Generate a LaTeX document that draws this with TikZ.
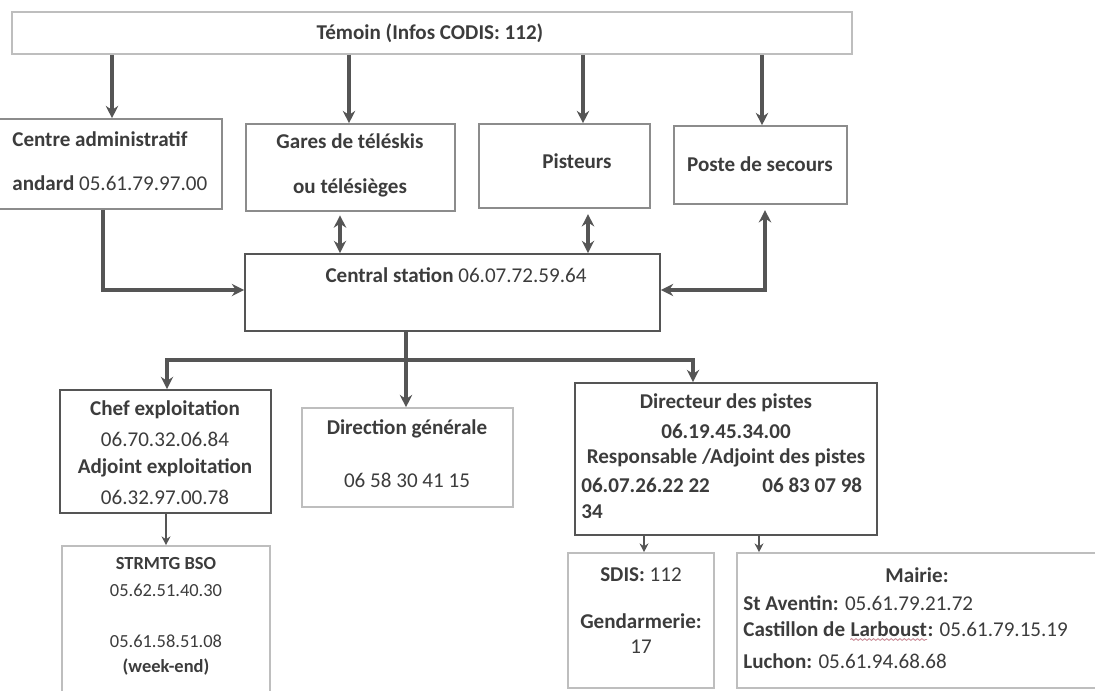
\documentclass[tikz,border=0pt]{standalone}
\usepackage{fontspec}
\setmainfont{Carlito}
\usetikzlibrary{arrows.meta,fit,decorations.pathmorphing}

\definecolor{ink}{HTML}{3C3C3C}
\definecolor{wire}{HTML}{555555}
\definecolor{edge}{HTML}{8C8C8C}
\definecolor{pale}{HTML}{BEBEBE}
\definecolor{squiggle}{HTML}{C98A95}

\tikzset{
  box/.style={draw=edge, line width=0.9pt, inner sep=0pt},
  darkbox/.style={box, draw=wire, line width=1pt},
  palebox/.style={box, draw=pale},
  txt/.style={text=ink, inner sep=0pt, font=\fontsize{12}{14}\selectfont},
  smalltxt/.style={txt, font=\fontsize{10.5}{12}\selectfont},
  link/.style={draw=wire, line width=1.8pt, -{Stealth[length=7pt,width=7pt]}},
  twoway/.style={link, {Stealth[length=7pt,width=7pt]}-{Stealth[length=7pt,width=7pt]}},
  thinlink/.style={draw=wire, line width=1.2pt, -{Stealth[length=5pt,width=5pt]}},
}

\begin{document}
\begin{tikzpicture}[x=0.02cm, y=-0.02cm]
  \useasboundingbox (0,0) rectangle (1095,690);

  % Witness
  \node[palebox, fit={(12,12) (852,54)}] (temoin) {};
  \node[txt] (temoinT) at (430,33) {\textbf{Témoin (Infos CODIS: 112)}};

  % First contacts
  \node[box, fit={(-10,119) (222,209)}] (admin) {};
  \node[txt, anchor=west] (adminA) at (12,139) {\textbf{Centre administratif}};
  \node[txt, anchor=west] (adminB) at (12,183) {\textbf{andard} 05.61.79.97.00};
  \node[box, fit={(246,124) (455,211)}] (gares) {};
  \node[txt] (garesA) at (350,141) {\textbf{Gares de téléskis}};
  \node[txt] (garesB) at (350,188) {\textbf{ou télésièges}};
  \node[box, fit={(479,124) (650,208)}] (pist) {};
  \node[txt] (pistT) at (577,161) {\textbf{Pisteurs}};
  \node[box, fit={(674,126) (847,204)}] (poste) {};
  \node[txt] (posteT) at (760,164) {\textbf{Poste de secours}};

  \foreach \b/\x in {admin/112, gares/349, pist/583, poste/762}
    \draw[link] (temoin.south -| \x,0) -- (\b.north -| \x,0);

  % Central station
  \node[darkbox, fit={(245,254) (660,331)}] (central) {};
  \node[txt] (centralT) at (456,275) {\textbf{Central station} 06.07.72.59.64};

  \draw[link, line width=2.2pt] (admin.south -| 103,0) |- (central.west |- 0,290);
  \draw[twoway, shorten <=2pt] (gares.south -| 340,0) -- (central.north -| 340,0);
  \draw[twoway, shorten >=3pt] (central.north -| 588,0) -- (pist.south -| 588,0);
  \draw[twoway, line width=2.2pt, shorten >=3pt] (central.east |- 0,290) -| (poste.south -| 765,0);

  % Management
  \coordinate (split) at (406,360);
  \draw[draw=wire, line width=1.8pt] (central.south -| split) -- (split);

  \node[darkbox, fit={(60,390) (271,513)}] (chef) {};
  \node[txt] (chefA) at (165,410) {\textbf{Chef exploitation}};
  \node[txt] (chefB) at (165,439) {06.70.32.06.84};
  \node[txt] (chefC) at (165,468) {\textbf{Adjoint exploitation}};
  \node[txt] (chefD) at (165,497) {06.32.97.00.78};

  \node[palebox, fit={(302,408) (513,507)}] (dirg) {};
  \node[txt] (dirgA) at (407,429) {\textbf{Direction générale}};
  \node[txt] (dirgB) at (407,480) {06 58 30 41 15};

  \node[darkbox, fit={(575,383) (877,535)}] (dirp) {};
  \node[txt] (dirpA) at (726,403) {\textbf{Directeur des pistes}};
  \node[txt] (dirpB) at (726,431) {\textbf{06.19.45.34.00}};
  \node[txt] (dirpC) at (726,458) {\textbf{Responsable /Adjoint des pistes}};
  \node[txt, anchor=west] (dirpD) at (581,485) {\textbf{06.07.26.22 22}};
  \node[txt, anchor=west] (dirpE) at (762,485) {\textbf{06 83 07 98}};
  \node[txt, anchor=west] (dirpF) at (581,512) {\textbf{34}};

  \draw[link] (split) -| (chef.north -| 167,0);
  \draw[link] (split) -- (dirg.north -| split);
  \draw[link] (split) -| (dirp.north -| 693,0);

  % Outside services
  \node[palebox, fit={(62,546) (270,705)}] (strmtg) {};
  \node[smalltxt] (strmtgA) at (166,564) {\textbf{STRMTG BSO}};
  \node[smalltxt] (strmtgB) at (166,590) {05.62.51.40.30};
  \node[smalltxt] (strmtgC) at (166,641) {05.61.58.51.08};
  \node[smalltxt] (strmtgD) at (166,667) {\textbf{(week-end)}};

  \node[palebox, fit={(568,553) (714,688)}] (sdis) {};
  \node[txt] (sdisA) at (641,575) {\textbf{SDIS:} 112};
  \node[txt] (sdisB) at (641,621) {\textbf{Gendarmerie:}};
  \node[txt] (sdisC) at (641,647) {17};

  \node[palebox, fit={(737,553) (1110,688)}] (mairie) {};
  \node[txt] (mairieA) at (917,575) {\textbf{Mairie:}};
  \node[txt, anchor=west] (mairieB) at (743,603) {\textbf{St Aventin:} 05.61.79.21.72};
  \node[txt, anchor=base west] (mairieC) at (743,636) {\textbf{Castillon de}};
  \node[txt, anchor=base west] (larboust) at ([xshift=2.7pt]mairieC.base east) {\textbf{Larboust}};
  \node[txt, anchor=base west] (mairieE) at (larboust.base east) {\textbf{:} 05.61.79.15.19};
  \node[txt, anchor=west] (mairieD) at (743,661) {\textbf{Luchon:} 05.61.94.68.68};
  \draw[squiggle, line width=0.5pt, decorate, decoration={snake, amplitude=0.5pt, segment length=2.5pt}]
    ([yshift=-2pt]larboust.base west) -- ([yshift=-2pt]larboust.base east);

  \draw[thinlink] (chef.south -| 166,0) -- (strmtg.north -| 166,0);
  \draw[thinlink] (dirp.south -| 644,0) -- (sdis.north -| 644,0);
  \draw[thinlink] (dirp.south -| 759,0) -- (mairie.north -| 759,0);
\end{tikzpicture}
\end{document}
